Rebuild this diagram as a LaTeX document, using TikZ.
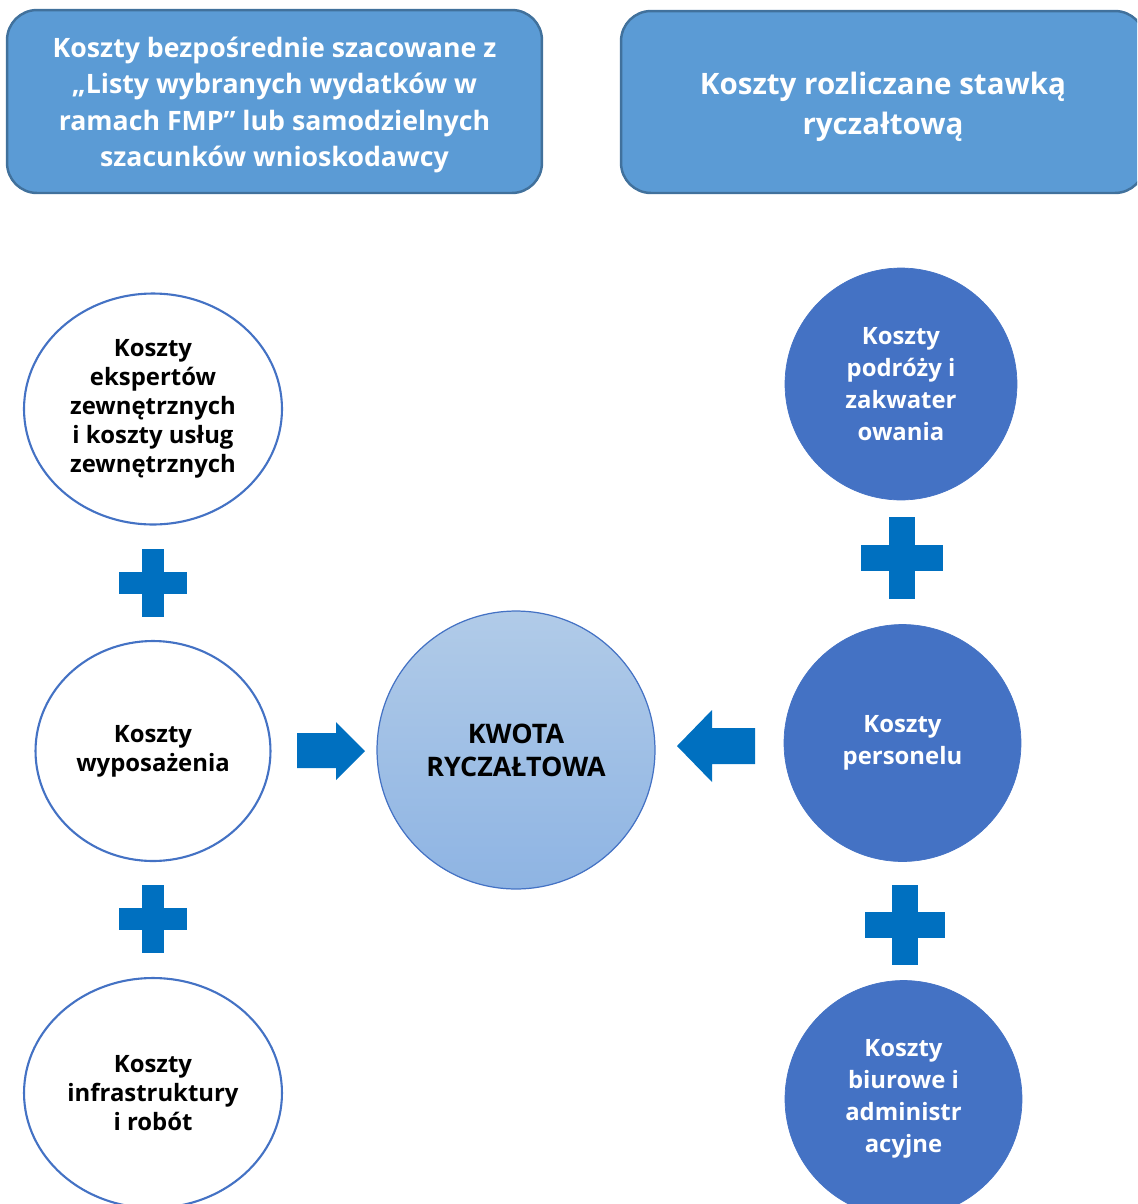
\documentclass[tikz,border=0pt]{standalone}
\usepackage{fontspec}
\setmainfont{Open Sans}
\usetikzlibrary{shapes.geometric}

\definecolor{boxfill}{HTML}{5B9BD5}
\definecolor{boxedge}{HTML}{41719C}
\definecolor{circblue}{HTML}{4472C4}
\definecolor{plusblue}{HTML}{0070C0}
\definecolor{kwtop}{HTML}{B1CBE8}
\definecolor{kwbot}{HTML}{8EB4E3}

\begin{document}
\begin{tikzpicture}
  [x=0.02cm,y=-0.02cm,
   topbox/.style={rectangle,rounded corners=0.6cm,draw=boxedge,fill=boxfill,
     line width=1.4pt,inner sep=0pt},
   boxtext/.style={text=white,align=center,inner sep=0pt},
   costoval/.style={ellipse,draw=circblue,fill=white,line width=1.2pt,inner sep=0pt,
     align=center,font=\bfseries\fontsize{13.6}{16.6}\selectfont},
   costdisc/.style={circle,draw=circblue,fill=circblue,text=white,inner sep=0pt,
     align=center,font=\bfseries\fontsize{13.6}{18.3}\selectfont}]
  \useasboundingbox (0,0) rectangle (1137,1204);
  \clip (0,0) rectangle (1137,1204);

  \node[topbox,minimum width=10.7cm,minimum height=3.66cm] (direct) at (274.5,101.5) {};
  \node[boxtext,font=\bfseries\fontsize{15.2}{20.6}\selectfont] (directtext) at (274.5,105)
    {Koszty bezpośrednie szacowane z\\„Listy wybranych wydatków w\\ramach FMP” lub samodzielnych\\szacunków wnioskodawcy};
  \node[topbox,minimum width=10.48cm,minimum height=3.64cm] (flat) at (883,102) {};
  \node[boxtext,font=\bfseries\fontsize{16.8}{22.7}\selectfont] (flattext) at (883,107)
    {Koszty rozliczane stawką\\ryczałtową};

  \node[costoval,minimum width=5.16cm,minimum height=4.62cm] (experts) at (153,409)
    {Koszty\\ekspertów\\zewnętrznych\\i koszty usług\\zewnętrznych};
  \node[costoval,minimum width=4.7cm,minimum height=4.4cm] (equip) at (153,751)
    {Koszty\\wyposażenia};
  \node[costoval,minimum width=5.16cm,minimum height=4.6cm] (infra) at (153,1093)
    {Koszty\\infrastruktury\\i robót};

  \node[costdisc,minimum size=4.64cm] (travel) at (901,384)
    {Koszty\\podróży i\\zakwater\\owania};
  \node[costdisc,minimum size=4.74cm] (staff) at (902.5,743)
    {Koszty\\personelu};
  \node[costdisc,minimum size=4.74cm] (office) at (903.5,1099)
    {Koszty\\biurowe i\\administr\\acyjne};

  \node[circle,draw=circblue,line width=0.7pt,top color=kwtop,bottom color=kwbot,
    minimum size=5.56cm,inner sep=0pt,align=center,
    font=\bfseries\fontsize{15.3}{18.7}\selectfont] (lump) at (516,750)
    {KWOTA\\RYCZAŁTOWA};

  % plus signs
  \foreach \cx/\cy/\s/\t in {153/583/34/11,153/919/34/11,902/558/41/13,905/925/40/13}{
    \fill[plusblue] (\cx-\s,\cy-\t) rectangle (\cx+\s,\cy+\t);
    \fill[plusblue] (\cx-\t,\cy-\s) rectangle (\cx+\t,\cy+\s);
  }

  % block arrows
  \fill[plusblue] (297,733) -- (336,733) -- (336,722) -- (365,751) -- (336,780)
    -- (336,768) -- (297,768) -- cycle;
  \fill[plusblue] (755,728) -- (712,728) -- (712,710) -- (677,746) -- (712,782)
    -- (712,764) -- (755,764) -- cycle;

\end{tikzpicture}
\end{document}
